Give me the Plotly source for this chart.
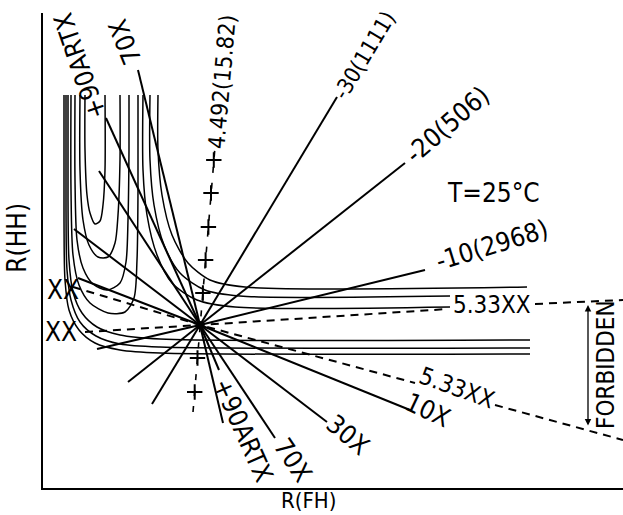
import plotly.graph_objects as go

# ---- data (arbitrary units; axes carry no ticks) ----
saddle_x = 157
saddle_y = 163

# straight lines radiating from the saddle point (far end of each)
ray_end_x = [95, 63, 56, 31, 35, 54, 85, 109, 180, 176, 232, 284, 367, 382, 362, 294]
ray_end_y = [418, 370, 317, 259, 210, 139, 106, 84, 65, 118, 50, 66, 78, 218, 325, 391]

# dashed 5.33XX lines
dash_a_x = [30, 157, 372]
dash_a_y = [201, 163, 105]
dash_a_tail_x = [452, 580]
dash_a_tail_y = [83, 48]
dash_b_x = [42, 157, 405]
dash_b_y = [156, 163, 179]
dash_b_tail_x = [492, 580]
dash_b_tail_y = [184, 188]

# dashed line with "+" marks (4.492)
plus_line_x = [150, 172]
plus_line_y = [76, 341]
plus_x = [151.7, 154.5, 159.9, 162.6, 165.4, 168.0, 170.8]
plus_y = [96, 130, 195, 228, 261, 295, 328]

# contour curves
u1_x = [42, 42, 44, 47, 52, 57, 60, 62, 62]
u1_y = [393, 338, 293, 275, 264, 267, 283, 318, 393]
u2_x = [37, 37, 40, 46, 55, 65, 72, 75, 77, 77]
u2_y = [393, 318, 268, 243, 231, 231, 245, 273, 328, 393]
u3_x = [32, 32, 34, 40, 50, 64, 77, 83, 85, 86, 86]
u3_y = [393, 308, 248, 220, 204, 198, 205, 226, 268, 338, 393]
u4_x = [28, 28, 30, 36, 47, 65, 82, 91, 94, 95, 95]
u4_y = [393, 298, 233, 203, 185, 175, 176, 190, 228, 298, 393]

outer1_x = [115, 115, 119, 129, 145, 167, 202, 484]
outer1_y = [393, 338, 293, 253, 225, 208, 201, 201]
outer2_x = [107, 107, 111, 121, 137, 162, 197, 407]
outer2_y = [393, 328, 283, 243, 215, 198, 192, 192]
outer3_x = [100, 100, 104, 114, 129, 154, 192, 407]
outer3_y = [393, 318, 273, 233, 205, 188, 181, 181]

inner1_x = [25, 25, 26, 30, 39, 54, 77, 117, 487]
inner1_y = [393, 288, 228, 196, 175, 161, 153, 149, 148]
inner2_x = [23, 23, 24, 28, 37, 53, 77, 117, 487]
inner2_y = [393, 278, 218, 188, 166, 152, 144, 141, 140]
inner3_x = [21, 21, 22, 26, 36, 52, 77, 117, 487]
inner3_y = [393, 268, 208, 178, 158, 145, 138, 135, 134]

# labels
label_text = ["-30(1111)", "-20(506)", "-10(2968)", "5.33XX", "5.33XX", "10X", "30X",
              "70X", "+90ARTX", "70X", "+90ARTX", "4.492(15.82)", "T=25°C",
              "XX", "XX"]
label_x = [321, 404, 449, 449, 414, 385, 305, 250, 200, 82, 37, 179, 450, 20, 18]
label_y = [433, 363, 243, 183, 100, 78, 53, 28, 58, 446, 422, 406, 295, 198, 156]
label_angle = [-59, -41, -17, 0, 20, 25, 40, 56, 66, -112, -109, -85, 0, 0, 0]
label_size = [22, 26, 26, 24, 24, 26, 26, 26, 26, 26, 26, 23, 26, 26, 26]

forbidden_x = 545
forbidden_low = 61
forbidden_high = 183

FONT = "Liberation Sans Narrow, DejaVu Sans Condensed, Liberation Sans, sans-serif"

fig = go.Figure()

# contours
for cx, cy in [(u1_x, u1_y), (u2_x, u2_y), (u3_x, u3_y), (u4_x, u4_y),
               (outer1_x, outer1_y), (outer2_x, outer2_y), (outer3_x, outer3_y),
               (inner1_x, inner1_y), (inner2_x, inner2_y), (inner3_x, inner3_y)]:
    fig.add_trace(go.Scatter(x=cx, y=cy, mode="lines",
                             line=dict(color="black", width=1.5, shape="spline", smoothing=0.8),
                             hoverinfo="skip", showlegend=False))

# rays
rx, ry = [], []
for ex, ey in zip(ray_end_x, ray_end_y):
    rx += [saddle_x, ex, None]
    ry += [saddle_y, ey, None]
fig.add_trace(go.Scatter(x=rx, y=ry, mode="lines", line=dict(color="black", width=2),
                         hoverinfo="skip", showlegend=False))

# dashed lines
for dx, dy in [(dash_a_x, dash_a_y), (dash_a_tail_x, dash_a_tail_y),
               (dash_b_x, dash_b_y), (dash_b_tail_x, dash_b_tail_y)]:
    fig.add_trace(go.Scatter(x=dx, y=dy, mode="lines",
                             line=dict(color="black", width=2, dash="8px,6px"),
                             hoverinfo="skip", showlegend=False))

fig.add_trace(go.Scatter(x=plus_line_x, y=plus_line_y, mode="lines",
                         line=dict(color="black", width=1.6, dash="6px,10px"),
                         hoverinfo="skip", showlegend=False))
fig.add_trace(go.Scatter(x=plus_x, y=plus_y, mode="markers",
                         marker=dict(symbol="cross-thin", size=11,
                                     line=dict(color="black", width=2)),
                         hoverinfo="skip", showlegend=False))

# saddle blob
fig.add_trace(go.Scatter(x=[saddle_x], y=[saddle_y], mode="markers",
                         marker=dict(color="black", size=8),
                         hoverinfo="skip", showlegend=False))

annotations = []
for t, x, y, a, s in zip(label_text, label_x, label_y, label_angle, label_size):
    annotations.append(dict(x=x, y=y, xref="x", yref="y", text=t, textangle=a,
                            showarrow=False, xanchor="center", yanchor="middle",
                            font=dict(family=FONT, size=s, color="black")))

annotations.append(dict(x=563, y=123, xref="x", yref="y", text="FORBIDDEN", textangle=-90,
                        showarrow=False, font=dict(family=FONT, size=24, color="black")))
annotations.append(dict(x=forbidden_x, y=forbidden_high, ax=forbidden_x, ay=forbidden_low,
                        xref="x", yref="y", axref="x", ayref="y", text="",
                        showarrow=True, arrowside="end+start", arrowhead=2,
                        arrowsize=1, arrowwidth=1.3, arrowcolor="black"))

annotations.append(dict(x=0.457, y=-0.026, xref="paper", yref="paper", text="R(FH)",
                        showarrow=False, xanchor="center", yanchor="middle",
                        font=dict(family=FONT, size=22, color="black")))
annotations.append(dict(x=-0.044, y=0.528, xref="paper", yref="paper", text="R(HH)",
                        textangle=-90, showarrow=False, xanchor="center", yanchor="middle",
                        font=dict(family=FONT, size=26, color="black")))

fig.update_layout(
    width=623, height=515,
    margin=dict(l=43, r=0, t=13, b=27, pad=0),
    paper_bgcolor="white", plot_bgcolor="white",
    annotations=annotations,
    xaxis=dict(range=[0, 580], showgrid=False, zeroline=False, showticklabels=False,
               ticks="", showline=True, linecolor="black", linewidth=2),
    yaxis=dict(range=[0, 475], showgrid=False, zeroline=False, showticklabels=False,
               ticks="", showline=True, linecolor="black", linewidth=2),
    showlegend=False,
)

# remove the default page margin so the 623x515 figure fills the window exactly
fig.write_html("out.html",
               config={"displayModeBar": False},
               post_script="document.body.style.margin='0';document.body.style.overflow='hidden';")
